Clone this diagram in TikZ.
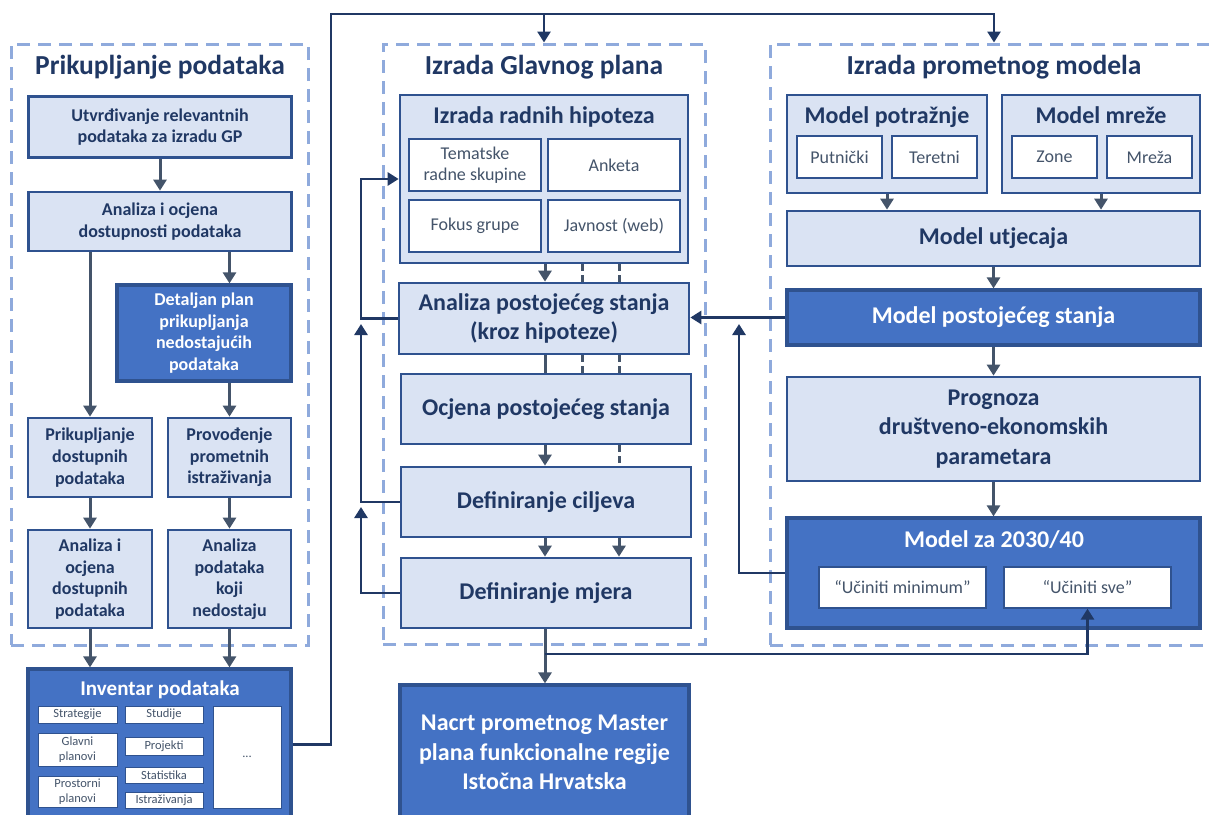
\documentclass[tikz,border=0pt]{standalone}
\usepackage{fontspec}
\setmainfont{Carlito}
\usetikzlibrary{arrows.meta}
\definecolor{lightbox}{HTML}{DAE3F3}
\definecolor{darkbox}{HTML}{4472C4}
\definecolor{boxline}{HTML}{2F528F}
\definecolor{groupline}{HTML}{8FAADC}
\definecolor{flowline}{HTML}{44546A}
\definecolor{navy}{HTML}{203864}
\newcommand\fhead{\fontsize{27.5}{33}\selectfont}
\newcommand\fbig{\fontsize{24}{29.5}\selectfont}
\newcommand\fmid{\fontsize{18}{21.6}\selectfont}
\newcommand\ftiny{\fontsize{12.5}{15}\selectfont}
\tikzset{
  lbox/.style={draw=boxline, fill=lightbox, line width=2.7pt, text=navy, font=\bfseries\fmid, align=center, inner sep=0pt},
  dbox/.style={lbox, fill=darkbox, text=white, line width=3.2pt},
  sbox/.style={draw=boxline, fill=white, line width=1.3pt, text=flowline, font=\fmid, align=center, inner sep=0pt},
  ibox/.style={sbox, font=\ftiny, line width=1pt},
  group/.style={draw=groupline, line width=3pt, dash pattern=on 13pt off 8pt, inner sep=0pt},
  head/.style={font=\bfseries\fhead, text=navy, anchor=base, inner sep=0pt},
  btitle/.style={font=\bfseries\fbig, text=navy, anchor=base, inner sep=0pt},
  link/.style={draw=flowline, line width=3pt},
  flow/.style={link, -{Triangle[length=11pt,width=13pt]}},
  dline/.style={link, dash pattern=on 7pt off 4pt},
  back/.style={draw=navy, line width=2.7pt, -{Triangle[length=11pt,width=13pt]}},
}
\begin{document}
\begin{tikzpicture}[x=1pt,y=-1pt]
\useasboundingbox (0,0) rectangle (1209,814);
\node[group, minimum width=297, minimum height=601] (g1) at (159.5,344.5) {};
\node[group, minimum width=322, minimum height=600] (g2) at (544,344) {};
\node[group, minimum width=455, minimum height=601] (g3) at (997.5,344.5) {};
\node[head] (t1) at (160,74) {Prikupljanje podataka};
\node[head] (t2) at (544,74) {Izrada Glavnog plana};
\node[head] (t3) at (994,74) {Izrada prometnog modela};

\node[lbox, minimum width=263, minimum height=61] (ut) at (160,127) {Utvrđivanje relevantnih\\podataka za izradu GP};
\node[lbox, minimum width=263, minimum height=59] (an1) at (160,221.5) {Analiza i ocjena\\dostupnosti podataka};
\node[dbox, minimum width=174, minimum height=96] (det) at (204,333) {Detaljan plan\\prikupljanja\\nedostajućih\\podataka};
\node[lbox, minimum width=124, minimum height=79] (pd) at (90,457.5) {Prikupljanje\\dostupnih\\podataka};
\node[lbox, minimum width=123, minimum height=79] (pr) at (229.5,457.5) {Provođenje\\prometnih\\istraživanja};
\node[lbox, minimum width=124, minimum height=98] (aod) at (90,579) {Analiza i\\ocjena\\dostupnih\\podataka};
\node[lbox, minimum width=123, minimum height=98] (apk) at (229.5,579) {Analiza\\podataka\\koji\\nedostaju};
\node[dbox, minimum width=263, minimum height=151] (inv) at (159.5,744.5) {};
\node[head, font=\bfseries\fontsize{21}{25}\selectfont, text=white] (invt) at (160,695) {Inventar podataka};
\node[ibox, minimum width=79, minimum height=17] (str) at (77.5,714.5) {Strategije};
\node[ibox, minimum width=78, minimum height=17] (stu) at (164,714.5) {Studije};
\node[ibox, minimum width=79, minimum height=33] (gla) at (77.5,749.5) {Glavni\\planovi};
\node[ibox, minimum width=78, minimum height=18] (prj) at (164,746) {Projekti};
\node[ibox, minimum width=79, minimum height=31] (pros) at (77.5,791.5) {Prostorni\\planovi};
\node[ibox, minimum width=78, minimum height=16] (sta) at (164,775) {Statistika};
\node[ibox, minimum width=78, minimum height=16] (ist) at (164,800) {Istraživanja};
\node[ibox, minimum width=68, minimum height=102] (dots) at (247,757) {...};

\node[lbox, minimum width=288, minimum height=168] (hip) at (544,179) {};
\node[btitle] (hipt) at (544,123) {Izrada radnih hipoteza};
\node[sbox, minimum width=132, minimum height=52] (tem) at (475,165) {Tematske\\radne skupine};
\node[sbox, minimum width=132, minimum height=52] (ank) at (614,165) {Anketa};
\node[sbox, minimum width=132, minimum height=52] (fok) at (475,226) {Fokus grupe};
\node[sbox, minimum width=132, minimum height=52] (jav) at (614,226) {Javnost (web)};
\node[lbox, font=\bfseries\fbig, minimum width=290, minimum height=71] (aps) at (544,318.5) {Analiza postojećeg stanja\\(kroz hipoteze)};
\node[lbox, font=\bfseries\fbig, minimum width=290, minimum height=70] (ocj) at (546,409) {Ocjena postojećeg stanja};
\node[lbox, font=\bfseries\fbig, minimum width=290, minimum height=70] (cil) at (546,502) {Definiranje ciljeva};
\node[lbox, font=\bfseries\fbig, minimum width=290, minimum height=70] (mje) at (546,593) {Definiranje mjera};
\node[dbox, font=\bfseries\fbig, minimum width=289, minimum height=135] (nac) at (544.5,752.5) {Nacrt prometnog Master\\plana funkcionalne regije\\Istočna Hrvatska};

\node[lbox, minimum width=200, minimum height=98] (mpo) at (887,144) {};
\node[btitle] (mpot) at (887,123) {Model potražnje};
\node[sbox, minimum width=85, minimum height=42] (put) at (839.5,157) {Putnički};
\node[sbox, minimum width=85, minimum height=42] (ter) at (934.5,157) {Teretni};
\node[lbox, minimum width=198, minimum height=98] (mmr) at (1101,144) {};
\node[btitle] (mmrt) at (1101,123) {Model mreže};
\node[sbox, minimum width=85, minimum height=42] (zon) at (1054.5,157) {Zone};
\node[sbox, minimum width=85, minimum height=42] (mrz) at (1149.5,157) {Mreža};
\node[lbox, font=\bfseries\fbig, minimum width=413, minimum height=55] (utj) at (993.5,238.5) {Model utjecaja};
\node[dbox, font=\bfseries\fbig, minimum width=413, minimum height=55] (mps) at (993.5,317.5) {Model postojećeg stanja};
\node[lbox, font=\bfseries\fbig, minimum width=413, minimum height=104] (pro) at (993.5,429) {Prognoza\\društveno-ekonomskih\\parametara};
\node[dbox, minimum width=413, minimum height=110] (m30) at (993.5,573) {};
\node[btitle, text=white] (m30t) at (994,547) {Model za 2030/40};
\node[sbox, minimum width=167, minimum height=41] (umi) at (902.5,587.5) {“Učiniti minimum”};
\node[sbox, minimum width=167, minimum height=41] (usv) at (1087.5,587.5) {“Učiniti sve”};

\coordinate (s1) at (545,0);
\coordinate (d1) at (582,0);
\coordinate (d2) at (619,0);
\coordinate (lx) at (361,0);
\coordinate (up1) at (361,324);
\coordinate (up2) at (361,507);
\coordinate (up3) at (739,324);
\coordinate (j1) at (545,654);
\coordinate (k1) at (331,14);
\coordinate (k2) at (994,14);

\draw[flow] (ut) -- (an1);
\draw[flow] (an1.south -| pd) -- (pd);
\draw[flow] (an1.south -| pr) -- (det.north -| pr);
\draw[flow] (det.south -| pr) -- (pr);
\draw[flow] (pd) -- (aod);
\draw[flow] (pr) -- (apk);
\draw[flow] (aod) -- (aod |- inv.north);
\draw[flow] (apk) -- (apk |- inv.north);
\draw[back] (inv.east) -| (k1) -- (k2) -- (k2 |- g3.north);
\draw[back] (g2.north |- k1) -- (g2.north);

\draw[flow] (hip.south -| s1) -- (aps.north -| s1);
\draw[dline] (hip.south -| d1) -- (aps.north -| d1);
\draw[dline] (hip.south -| d2) -- (aps.north -| d2);
\draw[link] (aps.south -| s1) -- (ocj.north -| s1);
\draw[dline] (aps.south -| d1) -- (ocj.north -| d1);
\draw[dline] (aps.south -| d2) -- (ocj.north -| d2);
\draw[flow] (ocj.south -| s1) -- (cil.north -| s1);
\draw[dline] (ocj.south -| d2) -- (cil.north -| d2);
\draw[flow] (cil.south -| s1) -- (mje.north -| s1);
\draw[flow] (cil.south -| d2) -- (mje.north -| d2);
\draw[flow] (mje.south -| s1) -- (nac.north -| s1);
\draw[back] (aps.west) -- (aps.west -| lx) |- (hip.west);
\draw[back] (cil.west) -| (up1);
\draw[back] (mje.west) -| (up2);

\draw[flow] (mpo) -- (mpo |- utj.north);
\draw[flow] (mmr) -- (mmr |- utj.north);
\draw[flow] (utj) -- (mps);
\draw[flow] (mps) -- (pro);
\draw[flow] (pro) -- (m30);
\draw[back] (mps.west) -- (mps.west -| aps.east);
\draw[back] (m30.west) -| (up3);
\draw[back] (j1) -| (usv.south);
\end{tikzpicture}
\end{document}
